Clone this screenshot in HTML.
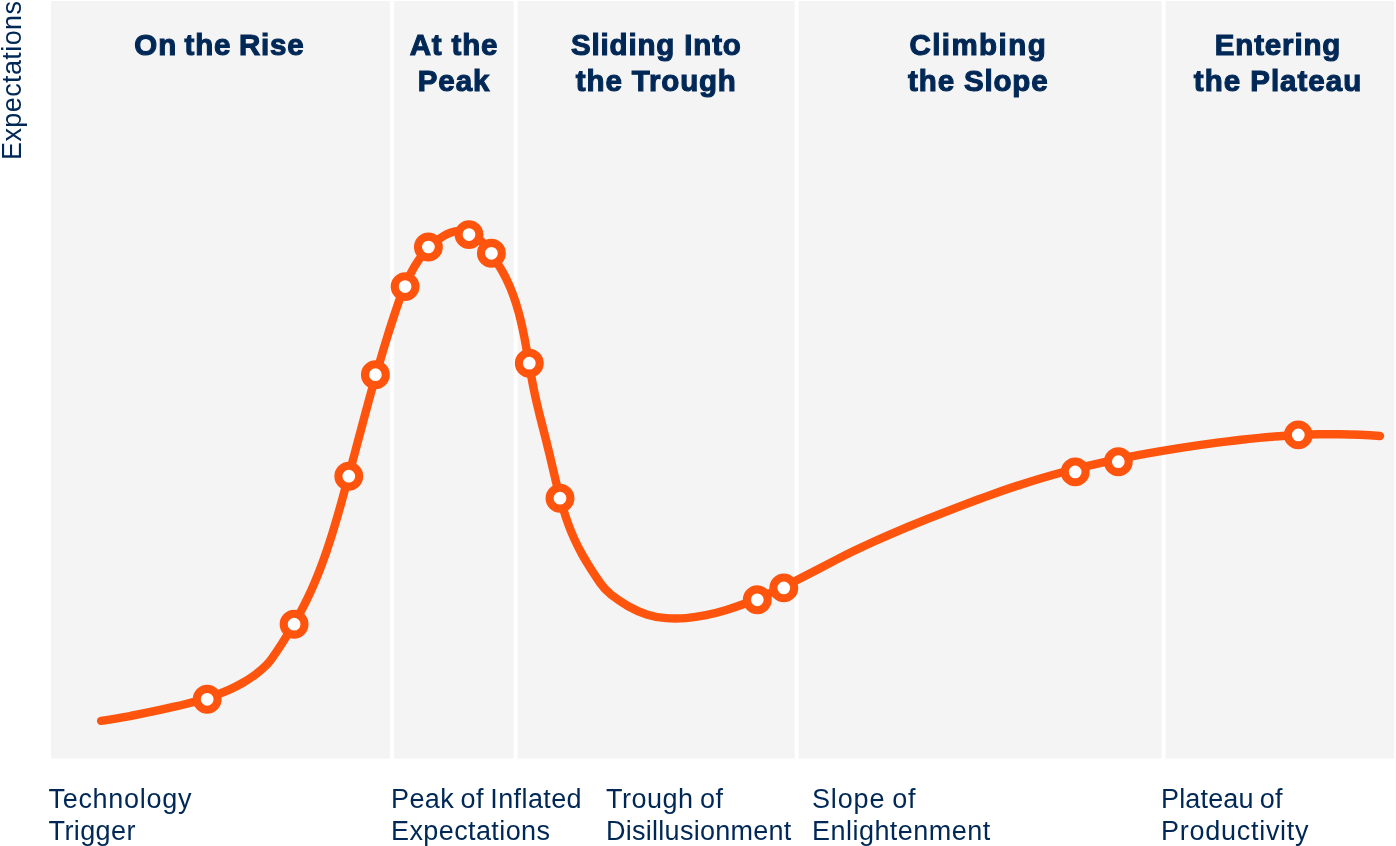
<!DOCTYPE html>
<html>
<head>
<meta charset="utf-8">
<title>Hype Cycle</title>
<style>
html,body{margin:0;padding:0;background:#fff;}
body{width:1396px;height:846px;position:relative;overflow:hidden;font-family:"Liberation Sans",sans-serif;color:#002856;}
.head{position:absolute;top:27px;font-weight:bold;font-size:29.5px;line-height:36px;letter-spacing:0.85px;-webkit-text-stroke:1.1px #002856;text-align:center;white-space:nowrap;transform:translateX(-50%);}
.lab{position:absolute;top:783px;font-size:27px;line-height:32px;letter-spacing:0.4px;word-spacing:-1.5px;white-space:nowrap;}
svg{position:absolute;left:0;top:0;}
</style>
</head>
<body>
<svg width="1396" height="846" viewBox="0 0 1396 846" fill="#f4f4f4">
<rect x="51" y="1" width="339" height="757.5"/>
<rect x="394" y="1" width="119.6" height="757.5"/>
<rect x="517.6" y="1" width="277.0" height="757.5"/>
<rect x="798.6" y="1" width="363.0" height="757.5"/>
<rect x="1165.6" y="1" width="228.7" height="757.5"/>
</svg>

<div class="head" style="left:219.5px;word-spacing:-1.5px">On the Rise</div>
<div class="head" style="left:454px">At the<br>Peak</div>
<div class="head" style="left:656.3px">Sliding Into<br>the Trough</div>
<div class="head" style="left:978.3px"><span style="letter-spacing:1.45px">Climbing</span><br>the Slope</div>
<div class="head" style="left:1278px">Entering<br><span style="letter-spacing:1.0px">the Plateau</span></div>

<svg width="1396" height="846" viewBox="0 0 1396 846">
<path d="M101.10 720.80 C105.93 720.11 110.75 719.36 115.57 718.57 C120.39 717.77 125.21 716.92 130.02 716.03 C134.84 715.14 139.65 714.20 144.46 713.23 C149.27 712.25 154.08 711.24 158.89 710.19 C163.70 709.15 168.51 708.07 173.32 706.97 C178.13 705.86 182.93 704.72 187.71 703.50 C192.49 702.29 197.25 701.00 201.95 699.60 C206.66 698.20 211.32 696.69 215.92 695.04 C220.51 693.38 225.04 691.58 229.47 689.59 C233.91 687.60 238.25 685.42 242.47 683.02 C246.68 680.61 250.77 677.98 254.70 675.09 C258.64 672.19 262.41 669.03 265.99 665.56 Q269.50 662.00 272.35 657.89 C275.63 653.12 278.84 648.31 281.98 643.44 C285.12 638.57 288.18 633.66 291.14 628.69 C294.11 623.72 296.97 618.69 299.72 613.60 C302.47 608.52 305.11 603.37 307.61 598.16 C310.11 592.95 312.48 587.67 314.73 582.34 C316.99 577.01 319.13 571.63 321.17 566.20 C323.21 560.78 325.16 555.31 327.03 549.81 C328.89 544.31 330.68 538.77 332.41 533.22 C334.13 527.66 335.80 522.09 337.42 516.51 C339.04 510.92 340.62 505.33 342.17 499.73 C343.73 494.14 345.25 488.55 346.77 482.97 C348.28 477.38 349.78 471.80 351.27 466.23 C352.77 460.65 354.25 455.08 355.73 449.51 C357.21 443.94 358.68 438.37 360.16 432.80 C361.65 427.24 363.13 421.67 364.63 416.11 C366.12 410.55 367.62 404.99 369.15 399.42 C370.67 393.86 372.21 388.30 373.77 382.74 C375.33 377.17 376.91 371.61 378.52 366.04 C380.14 360.48 381.78 354.91 383.46 349.34 C385.13 343.77 386.85 338.19 388.60 332.62 C390.36 327.04 392.15 321.46 394.00 315.87 C395.84 310.28 397.72 304.68 399.72 299.14 C401.73 293.60 403.86 288.12 406.21 282.80 C408.55 277.48 411.13 272.30 414.01 267.37 C416.90 262.44 420.10 257.74 423.72 253.38 C427.34 249.01 431.37 244.97 435.91 241.35 C440.45 237.72 445.56 234.26 451.02 232.40 C456.48 230.53 462.36 230.66 467.78 232.43 C473.20 234.20 477.97 237.62 481.96 241.89 C485.96 246.17 489.37 251.22 492.71 256.13 C496.05 261.03 499.22 265.93 502.09 270.94 C504.96 275.94 507.50 281.08 509.75 286.34 C512.00 291.60 513.97 296.97 515.72 302.43 C517.47 307.88 519.00 313.43 520.37 319.04 C521.75 324.65 522.97 330.32 524.09 336.03 C525.22 341.73 526.26 347.47 527.26 353.23 C528.27 358.98 529.24 364.74 530.25 370.49 C531.26 376.23 532.30 381.96 533.44 387.65 C534.58 393.34 535.82 398.98 537.14 404.60 C538.46 410.21 539.85 415.79 541.26 421.37 C542.68 426.95 544.12 432.53 545.54 438.12 C546.96 443.71 548.35 449.32 549.70 454.97 C551.04 460.61 552.35 466.28 553.68 471.95 C555.00 477.62 556.35 483.29 557.77 488.94 C559.19 494.58 560.69 500.20 562.31 505.77 C563.94 511.34 565.69 516.86 567.63 522.30 C569.57 527.74 571.69 533.10 574.06 538.37 C576.42 543.63 579.03 548.78 581.84 553.85 C584.64 558.91 587.63 563.88 590.75 568.78 C593.86 573.68 597.10 578.49 600.40 583.25 Q605.00 589.80 611.22 594.82 C616.60 598.97 622.30 602.88 628.23 606.24 C634.16 609.60 640.33 612.41 646.65 614.40 C652.98 616.40 659.47 617.60 666.04 618.17 C672.61 618.74 679.27 618.68 685.94 618.12 C692.60 617.57 699.28 616.54 705.90 615.17 C712.52 613.79 719.06 612.10 725.50 610.18 C731.94 608.26 738.29 606.11 744.57 603.76 C750.85 601.41 757.06 598.88 763.21 596.20 C769.36 593.51 775.46 590.69 781.53 587.77 C787.59 584.84 793.61 581.83 799.62 578.76 C805.63 575.69 811.61 572.57 817.60 569.45 C823.59 566.32 829.57 563.20 835.57 560.12 C841.57 557.04 847.59 554.00 853.65 551.05 C859.70 548.10 865.78 545.24 871.90 542.46 C878.01 539.67 884.15 536.96 890.32 534.30 C896.48 531.65 902.67 529.05 908.88 526.50 C915.09 523.95 921.31 521.44 927.55 518.96 C933.79 516.48 940.04 514.03 946.30 511.60 C952.56 509.16 958.83 506.75 965.11 504.36 C971.40 501.98 977.69 499.63 984.00 497.32 C990.31 495.02 996.64 492.76 1002.99 490.56 C1009.34 488.36 1015.70 486.22 1022.09 484.15 C1028.48 482.08 1034.89 480.08 1041.33 478.17 C1047.77 476.26 1054.23 474.44 1060.72 472.69 C1067.20 470.94 1073.71 469.26 1080.24 467.66 C1086.76 466.06 1093.31 464.53 1099.87 463.06 C1106.43 461.59 1113.01 460.19 1119.60 458.85 C1126.20 457.51 1132.80 456.23 1139.42 454.99 C1146.03 453.76 1152.66 452.59 1159.30 451.45 C1165.93 450.32 1172.57 449.24 1179.22 448.20 C1185.87 447.15 1192.52 446.15 1199.18 445.18 C1205.84 444.22 1212.50 443.29 1219.16 442.42 C1225.82 441.55 1232.49 440.73 1239.16 439.97 C1245.84 439.20 1252.51 438.50 1259.19 437.87 C1265.87 437.24 1272.56 436.68 1279.25 436.19 C1285.94 435.71 1292.63 435.30 1299.33 434.99 C1306.03 434.67 1312.74 434.44 1319.45 434.31 C1326.16 434.18 1332.88 434.14 1339.60 434.22 C1346.32 434.29 1353.05 434.47 1359.78 434.76 C1366.52 435.06 1373.25 435.47 1380.00 436.00" fill="none" stroke="#ff540d" stroke-width="8.4" stroke-linecap="round" stroke-linejoin="round"/>
<g fill="#ffffff" stroke="#ff540d" stroke-width="8.1">
<circle cx="207.2" cy="699.3" r="10.4"/>
<circle cx="294.1" cy="624.2" r="10.4"/>
<circle cx="348.8" cy="476.2" r="10.4"/>
<circle cx="375.4" cy="374.7" r="10.4"/>
<circle cx="405.1" cy="286.6" r="10.4"/>
<circle cx="428.4" cy="247.0" r="10.4"/>
<circle cx="469.0" cy="234.6" r="10.4"/>
<circle cx="491.4" cy="253.3" r="10.4"/>
<circle cx="529.3" cy="363.2" r="10.4"/>
<circle cx="560.0" cy="498.2" r="10.4"/>
<circle cx="757.3" cy="599.8" r="10.4"/>
<circle cx="783.8" cy="587.9" r="10.4"/>
<circle cx="1075.2" cy="471.9" r="10.4"/>
<circle cx="1118.3" cy="461.7" r="10.4"/>
<circle cx="1298.3" cy="434.9" r="10.4"/>
</g>
<text transform="translate(21 160) rotate(-90)" font-family="Liberation Sans, sans-serif" font-size="27" letter-spacing="0.4" fill="#002856">Expectations</text>
</svg>

<div class="lab" style="left:48.5px"><span style="letter-spacing:0.7px">Technology</span><br>Trigger</div>
<div class="lab" style="left:391px">Peak of Inflated<br>Expectations</div>
<div class="lab" style="left:606px"><span style="letter-spacing:0.5px">Trough of</span><br><span style="letter-spacing:0.27px">Disillusionment</span></div>
<div class="lab" style="left:812px"><span style="letter-spacing:0.85px">Slope of</span><br><span style="letter-spacing:0.47px">Enlightenment</span></div>
<div class="lab" style="left:1161px"><span style="letter-spacing:0.16px">Plateau of</span><br><span style="letter-spacing:0.73px">Productivity</span></div>
</body>
</html>
